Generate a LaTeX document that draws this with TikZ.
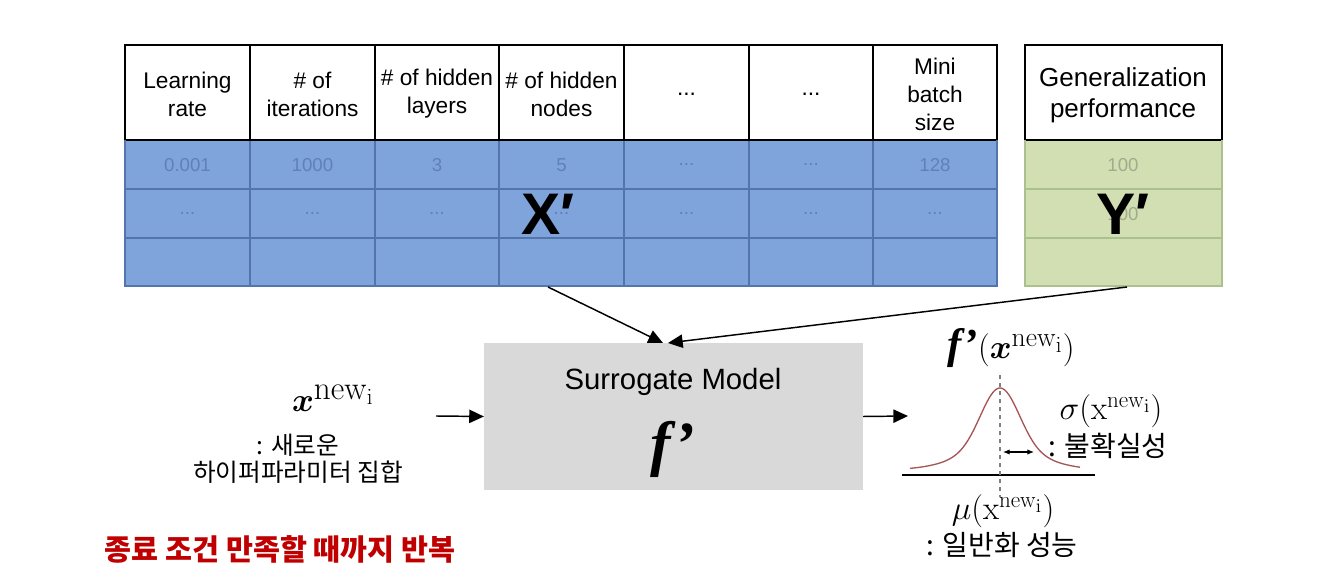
\documentclass[tikz,border=0pt]{standalone}
\usepackage[no-math]{fontspec}
\usepackage{bm}
\setmainfont{Liberation Sans}
\newfontfamily\krfont{Noto Sans CJK KR}
\newfontfamily\serifbi{Liberation Serif}
\usetikzlibrary{arrows.meta}

\definecolor{xblue}{RGB}{127,163,219}
\definecolor{xline}{RGB}{84,116,172}
\definecolor{xval}{RGB}{98,128,184}
\definecolor{ygreen}{RGB}{209,223,178}
\definecolor{yline}{RGB}{172,192,142}
\definecolor{yval}{RGB}{160,172,140}
\definecolor{modelgray}{RGB}{217,217,217}
\definecolor{curvered}{RGB}{165,85,85}
\definecolor{loopred}{RGB}{192,0,0}

\newcommand\dotsx{...}
\newcommand\xnewi{\bm{x}^{\mathrm{new}_{\mathrm{i}}}}
\newcommand\xrmnewi{\mathrm{x}^{\mathrm{new}_{\mathrm{i}}}}

\tikzset{
  grid/.style={line width=1.1pt},
  head/.style={align=center, font=\fontsize{17}{21}\selectfont},
  val/.style={font=\fontsize{14}{16}\selectfont, text=xval},
  big/.style={font=\fontsize{44}{44}\selectfont\bfseries},
  flow/.style={-{Triangle[length=11pt,width=10pt]}, line width=1.1pt},
  kr/.style={align=center, font=\krfont\fontsize{18.5}{20}\selectfont},
  mathlbl/.style={font=\fontsize{27}{28}\selectfont},
}

\begin{document}
\begin{tikzpicture}[x=0.75pt,y=-0.75pt]
\useasboundingbox (0,0) rectangle (1318,580);

% X' table
\fill[xblue] (125,140) rectangle (997,286);
\foreach \y in {189,238} \draw[xline,grid] (125,\y) -- (997,\y);
\foreach \x in {250,375,499,624,749,873} {
  \draw[grid] (\x,45) -- (\x,140);
  \draw[xline,grid] (\x,140) -- (\x,286);
}
\draw[grid] (125,45) rectangle (997,140);
\draw[xline,grid] (125,140) -- (125,286) -- (997,286) -- (997,140);

\foreach \x/\t [count=\i] in {187.5/{Learning\\rate}, 312.5/{\# of\\iterations},
    437/{\# of hidden\\layers}, 561.5/{\# of hidden\\nodes}, 686.5/{\dotsx},
    811/{\dotsx}, 935/{Mini\\batch\\size}}
  \node[head] (h\i) at (\x,94) {\t};
\foreach \x/\t [count=\i] in {187.5/0.001, 312.5/1000, 437/3, 561.5/5,
    686.5/{\dotsx}, 811/{\dotsx}, 935/128}
  \node[val] (a\i) at (\x,165) {\t};
\foreach \x [count=\i] in {187.5,312.5,437,561.5,686.5,811,935}
  \node[val] (b\i) at (\x,214) {\dotsx};
\node[big] (xset) at (548,214) {X′};

% Y' table
\fill[ygreen] (1025,140) rectangle (1222,286);
\foreach \y in {189,238} \draw[yline,grid] (1025,\y) -- (1222,\y);
\draw[grid] (1025,45) rectangle (1222,140);
\draw[yline,grid] (1025,140) -- (1025,286) -- (1222,286) -- (1222,140);
\node[head, font=\fontsize{19.5}{23}\selectfont] (gp) at (1123,95) {Generalization\\performance};
\node[val, text=yval] (ya) at (1123,165) {100};
\node[val, text=yval] (yb) at (1123,214) {100};
\node[big] (yset) at (1123,214) {Y′};

% surrogate model
\node[fill=modelgray, minimum width=284pt, minimum height=110pt] (model) at (673.5,416.5) {};
\node[font=\fontsize{22}{24}\selectfont] (mtitle) at (673,382) {Surrogate Model};
\node[font=\serifbi\fontsize{46}{46}\selectfont\bfseries\itshape] (fprime) at (673,449) {f’};

\coordinate (xout) at (548,287);
\coordinate (yout) at (1127,287);
\coordinate (in1) at (663,343);
\coordinate (in2) at (668,343);
\draw[flow] (xout) -- (in1);
\draw[flow] (yout) -- (in2);

% new hyperparameters
\node[mathlbl, font=\fontsize{34}{36}\selectfont] (xnew) at (333,398) {$\xnewi$};
\node[kr] (xdesc) at (298,459) {: 새로운\\하이퍼파라미터 집합};
\coordinate (feed) at (436,416);
\draw[flow] (feed) -- (model.west);

% prediction
\coordinate (pred) at (908,416);
\draw[flow] (model.east) -- (pred);
\node[font=\fontsize{32}{34}\selectfont] (fx) at (1011,348) {{\serifbi\bfseries\itshape f’}$(\xnewi)$};
\draw[line width=1.1pt] (902,475) -- (1095,475);
\draw[curvered, line width=1pt] plot[domain=910:1080, samples=120, smooth]
  (\x,{470-82*(0.75*exp(-((\x-1000)^2)/722)+0.25*exp(-((\x-1000)^2)/3200))});
\draw[dashed, gray, line width=0.8pt] (1000,375) -- (1000,497);
\draw[{Latex[length=5pt,width=4pt]}-{Latex[length=5pt,width=4pt]}, line width=0.8pt] (1003,452) -- (1034,452);
\node[mathlbl] (sig) at (1111,411) {$\sigma(\xrmnewi)$};
\node[kr, font=\krfont\fontsize{21}{22}\selectfont] (sigdesc) at (1108,446) {: 불확실성};
\node[mathlbl] (mu) at (1003,511) {$\mu(\xrmnewi)$};
\node[kr, font=\krfont\fontsize{21}{22}\selectfont] (mudesc) at (1002,545) {: 일반화 성능};

% loop condition
\node[kr, font=\krfont\fontsize{22}{24}\selectfont\bfseries, text=loopred] (loop) at (280,549) {종료 조건 만족할 때까지 반복};
\end{tikzpicture}
\end{document}
